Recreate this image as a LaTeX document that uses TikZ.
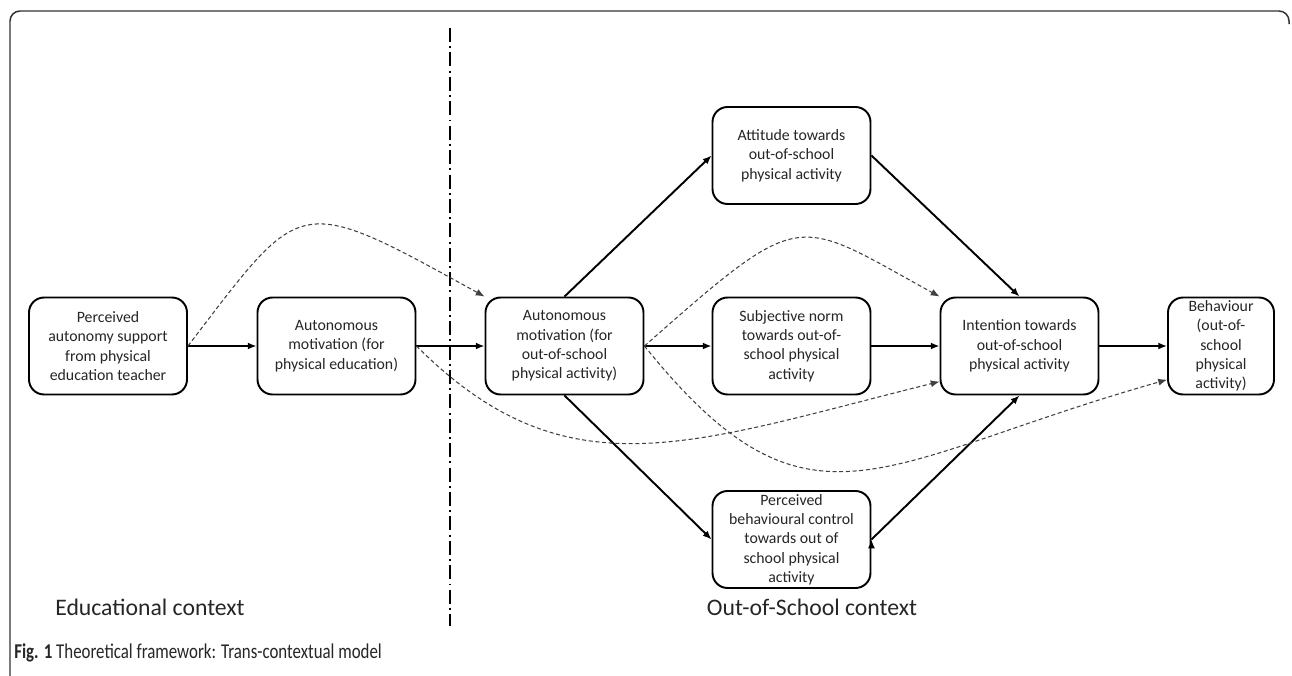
\documentclass[tikz,border=0pt]{standalone}
\usepackage{fontspec}
\setmainfont{Carlito}
\newfontfamily\capfont[FakeStretch=0.8]{Carlito}
\usetikzlibrary{arrows.meta}

\begin{document}
\begin{tikzpicture}[x=0.02cm, y=-0.02cm,
  >={Latex[length=5pt,width=4pt]},
  box/.style={shape=rectangle, rounded corners=0.3cm, draw=black,
    line width=1.1pt, fill=white, minimum width=3.16cm,
    minimum height=1.94cm, inner sep=1pt, align=center,
    font=\fontsize{9}{11}\selectfont, text=black!85},
  link/.style={->, line width=1.1pt},
  indirect/.style={->, line width=0.6pt, black!75,
    dash pattern=on 2.3pt off 1.5pt},
  ctx/.style={font=\fontsize{13.5}{16}\selectfont, text=black!85}]
\useasboundingbox (0,0) rectangle (1292,676);

              % frame
\draw[line width=0.85pt, black!80, rounded corners=0.2cm]
  (10,676) -- (10,11) -- (1289,11) -- (1289,24);

              % context divider
\draw[line width=0.85pt, dash pattern=on 8pt off 2.4pt on 1.1pt off 2.4pt]
  (450,28) -- (450,626);

              % educational context
\node[box] at (108,346)
(pas) {Perceived\\autonomy support\\from physical\\education teacher};

\node[box] at (336.5,346)
(amPE) {Autonomous\\motivation (for\\physical education)};

              % out-of-school context
\node[box] at (564.5,346)
(amOS) {Autonomous\\motivation (for\\out-of-school\\physical activity)};

\node[box] at (791.5,155.5)
(att) {Attitude towards\\out-of-school\\physical activity};

\node[box] at (791.5,346)
(sn) {Subjective norm\\towards out-of-\\school physical\\activity};

\node[box] at (791.5,539.5)
(pbc) {Perceived\\behavioural control\\towards out of\\school physical\\activity};

\node[box] at (1019.5,346)
(int) {Intention towards\\out-of-school\\physical activity};

\node[box, minimum width=2.12cm] at (1221,346)
(beh) {Behaviour\\(out-of-\\school\\physical\\activity)};

\draw[link]
  (pas)  edge (amPE)
  (amPE) edge (amOS)
  (amOS.north) edge (att.west)
  (amOS) edge (sn)
  (amOS.south) edge (pbc.west)
  (att.east) edge (int.north)
  (sn)   edge (int)
  (pbc.east) edge (int.south)
  (int)  edge (beh)
;

\draw[indirect] (pas.east) .. controls +(115,-150) and +(-190,-105) .. (amOS.north west);
\draw[indirect] (amOS.east) .. controls +(160,-141) and +(-146,-80) .. (int.north west);
\draw[indirect] (amPE.east) .. controls +(150,150) and +(-250,62) .. (int.204);
\draw[indirect] (amOS.east) .. controls +(165,205) and +(-290,82) .. (beh.212);

              % labels
\node[ctx] at (150,607) (edu) {Educational context};
\node[ctx] at (812,607) (oos) {Out-of-School context};

\node[anchor=west, font=\capfont\fontsize{12}{14}\selectfont, text=black!85, inner sep=0pt]
  at (14,653) (cap) {\textbf{Fig. 1} Theoretical framework: Trans-contextual model};
\end{tikzpicture}
\end{document}
